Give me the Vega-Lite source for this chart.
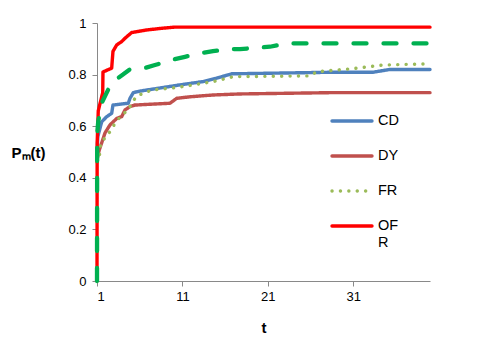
{
  "$schema": "https://vega.github.io/schema/vega-lite/v6.json",
  "autosize": "none",
  "width": 333,
  "height": 258,
  "padding": {"left": 97, "top": 23, "right": 49, "bottom": 64},
  "background": "white",
  "config": {
    "view": {"stroke": null},
    "font": "Liberation Sans",
    "legend": {"rowPadding": 6, "symbolType": "stroke", "symbolSize": 1600, "labelFontSize": 14.5, "labelColor": "#000", "labelOffset": 4, "labelBaseline": "middle"}
  },
  "datasets": {
    "main": [
      {"t": 1, "v": 0.5, "s": "CD"}, {"t": 1.1, "v": 0.56, "s": "CD"}, {"t": 1.55, "v": 0.617, "s": "CD"}, {"t": 2.14, "v": 0.637, "s": "CD"}, {"t": 2.72, "v": 0.65, "s": "CD"}, {"t": 2.87, "v": 0.682, "s": "CD"}, {"t": 4.67, "v": 0.689, "s": "CD"}, {"t": 4.86, "v": 0.708, "s": "CD"}, {"t": 5.25, "v": 0.73, "s": "CD"}, {"t": 6.03, "v": 0.736, "s": "CD"}, {"t": 8.76, "v": 0.75, "s": "CD"}, {"t": 10.7, "v": 0.76, "s": "CD"}, {"t": 13.45, "v": 0.773, "s": "CD"}, {"t": 15.0, "v": 0.786, "s": "CD"}, {"t": 16.8, "v": 0.803, "s": "CD"}, {"t": 28.3, "v": 0.809, "s": "CD"}, {"t": 33.3, "v": 0.809, "s": "CD"}, {"t": 35.3, "v": 0.82, "s": "CD"}, {"t": 40, "v": 0.82, "s": "CD"},
      {"t": 1, "v": 0.47, "s": "DY"}, {"t": 1.27, "v": 0.508, "s": "DY"}, {"t": 1.94, "v": 0.574, "s": "DY"}, {"t": 2.52, "v": 0.605, "s": "DY"}, {"t": 3.31, "v": 0.63, "s": "DY"}, {"t": 3.89, "v": 0.637, "s": "DY"}, {"t": 4.28, "v": 0.663, "s": "DY"}, {"t": 4.86, "v": 0.676, "s": "DY"}, {"t": 5.45, "v": 0.682, "s": "DY"}, {"t": 9.55, "v": 0.689, "s": "DY"}, {"t": 10.33, "v": 0.708, "s": "DY"}, {"t": 11.89, "v": 0.714, "s": "DY"}, {"t": 14.58, "v": 0.721, "s": "DY"}, {"t": 17.75, "v": 0.725, "s": "DY"}, {"t": 28.3, "v": 0.73, "s": "DY"}, {"t": 40, "v": 0.73, "s": "DY"},
      {"t": 1, "v": 0.46, "s": "FR"}, {"t": 1.27, "v": 0.48, "s": "FR"}, {"t": 1.43, "v": 0.534, "s": "FR"}, {"t": 2.52, "v": 0.579, "s": "FR"}, {"t": 3.11, "v": 0.611, "s": "FR"}, {"t": 3.89, "v": 0.643, "s": "FR"}, {"t": 4.67, "v": 0.663, "s": "FR"}, {"t": 5.06, "v": 0.689, "s": "FR"}, {"t": 5.65, "v": 0.717, "s": "FR"}, {"t": 7.4, "v": 0.74, "s": "FR"}, {"t": 10.33, "v": 0.75, "s": "FR"}, {"t": 12.28, "v": 0.76, "s": "FR"}, {"t": 14.62, "v": 0.773, "s": "FR"}, {"t": 16.96, "v": 0.792, "s": "FR"}, {"t": 25.94, "v": 0.795, "s": "FR"}, {"t": 26.73, "v": 0.811, "s": "FR"}, {"t": 30.6, "v": 0.822, "s": "FR"}, {"t": 34.5, "v": 0.837, "s": "FR"}, {"t": 40, "v": 0.842, "s": "FR"},
      {"t": 1, "v": 0, "s": "OFR"}, {"t": 1.02, "v": 0.535, "s": "OFR"}, {"t": 1.15, "v": 0.66, "s": "OFR"}, {"t": 1.67, "v": 0.73, "s": "OFR"}, {"t": 1.7, "v": 0.81, "s": "OFR"}, {"t": 2.72, "v": 0.825, "s": "OFR"}, {"t": 2.87, "v": 0.89, "s": "OFR"}, {"t": 3.31, "v": 0.915, "s": "OFR"}, {"t": 3.89, "v": 0.928, "s": "OFR"}, {"t": 4.28, "v": 0.941, "s": "OFR"}, {"t": 5.06, "v": 0.963, "s": "OFR"}, {"t": 6.82, "v": 0.973, "s": "OFR"}, {"t": 8.73, "v": 0.98, "s": "OFR"}, {"t": 10.1, "v": 0.984, "s": "OFR"}, {"t": 40, "v": 0.984, "s": "OFR"}
    ],
    "extra": [
      {"t": 1, "v": 0}, {"t": 1.02, "v": 0.57}, {"t": 1.15, "v": 0.62}, {"t": 1.55, "v": 0.69}, {"t": 2.14, "v": 0.73}, {"t": 2.72, "v": 0.77}, {"t": 4.04, "v": 0.8}, {"t": 4.86, "v": 0.82}, {"t": 6.42, "v": 0.824}, {"t": 7.79, "v": 0.837}, {"t": 9.75, "v": 0.857}, {"t": 11.3, "v": 0.869}, {"t": 13.06, "v": 0.882}, {"t": 14.58, "v": 0.891}, {"t": 16.34, "v": 0.898}, {"t": 17.75, "v": 0.899}, {"t": 21.26, "v": 0.908}, {"t": 23.2, "v": 0.921}, {"t": 40, "v": 0.921}
    ]
  },
  "layer": [
    {
      "data": {"name": "main"},
      "mark": {"type": "line", "strokeCap": "round", "strokeJoin": "round"},
      "encoding": {
        "x": {
          "field": "t", "type": "quantitative",
          "scale": {"domain": [1, 40], "nice": false, "zero": false},
          "axis": {
            "values": [1, 11, 21, 31], "grid": false, "title": "t",
            "domainColor": "#898989", "tickColor": "#898989", "tickSize": 5,
            "labelFontSize": 13, "labelColor": "#000", "labelPadding": 4,
            "titleFontSize": 15, "titleFontWeight": "bold", "titleColor": "#000",
            "titleY": 46, "titleBaseline": "middle"
          }
        },
        "y": {
          "field": "v", "type": "quantitative",
          "scale": {"domain": [0, 1], "nice": false},
          "axis": {
            "values": [0, 0.2, 0.4, 0.6, 0.8, 1], "format": ".1~f", "grid": false,
            "title": "Pₘ(t)", "titleAngle": 0, "titleX": -69, "titleY": 129,
            "titleAlign": "center", "titleBaseline": "middle",
            "titleFontSize": 15, "titleFontWeight": "bold", "titleColor": "#000",
            "domainColor": "#898989", "tickColor": "#898989", "tickSize": 5,
            "labelFontSize": 13, "labelColor": "#000", "labelPadding": 6
          }
        },
        "color": {
          "field": "s", "type": "nominal",
          "scale": {"domain": ["CD", "DY", "FR", "OFR"], "range": ["#4F81BD", "#C0504D", "#9BBB59", "#FF0000"]},
          "legend": {
            "orient": "none", "legendX": 233, "legendY": 76, "title": null,
            "labelExpr": "datum.label == 'OFR' ? ['OF', 'R'] : datum.label",
            "encode": {"symbols": {"update": {"strokeCap": {"value": "round"}}}}
          }
        },
        "strokeDash": {
          "field": "s", "type": "nominal",
          "scale": {"domain": ["CD", "DY", "FR", "OFR"], "range": [[1, 0], [1, 0], [0.1, 8.3], [1, 0]]},
          "legend": {"orient": "none", "legendX": 233, "legendY": 76, "title": null}
        },
        "strokeWidth": {
          "field": "s", "type": "ordinal",
          "scale": {"domain": ["CD", "DY", "FR", "OFR"], "range": [3.4, 3.4, 3.6, 4.7]},
          "legend": {"orient": "none", "legendX": 233, "legendY": 76, "title": null}
        }
      }
    },
    {
      "data": {"name": "extra"},
      "mark": {"type": "line", "color": "#00B050", "strokeWidth": 4.3, "strokeDash": [13, 17], "strokeCap": "round"},
      "encoding": {
        "x": {"field": "t", "type": "quantitative"},
        "y": {"field": "v", "type": "quantitative"}
      }
    }
  ]
}
